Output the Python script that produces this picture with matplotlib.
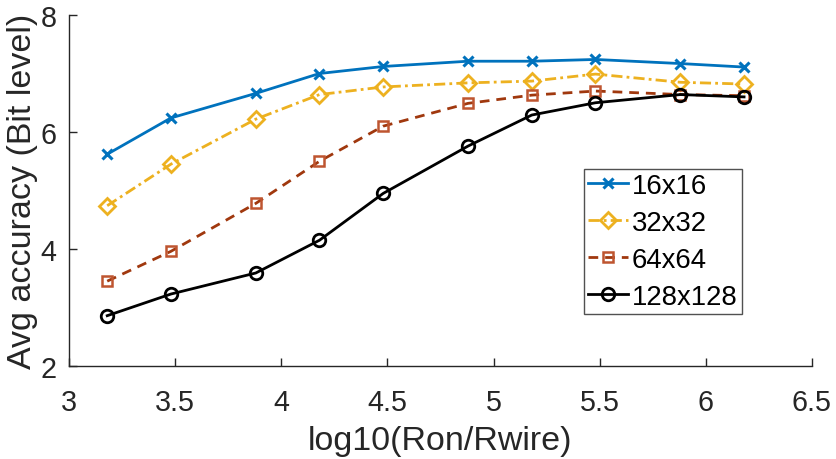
import matplotlib
matplotlib.use("Agg")
import matplotlib.pyplot as plt

# x positions: log10(Ron/Rwire)
ratio = [3.18, 3.48, 3.88, 4.18, 4.48, 4.88, 5.18, 5.48, 5.88, 6.18]

acc_16 = [5.62, 6.24, 6.66, 7.00, 7.12, 7.21, 7.21, 7.24, 7.17, 7.11]
acc_32 = [4.74, 5.45, 6.22, 6.64, 6.77, 6.84, 6.87, 6.99, 6.85, 6.82]
acc_64 = [3.45, 3.96, 4.78, 5.50, 6.10, 6.49, 6.63, 6.70, 6.64, 6.62]
acc_128 = [2.86, 3.23, 3.59, 4.15, 4.95, 5.76, 6.29, 6.50, 6.64, 6.60]

labels = ["16x16", "32x32", "64x64", "128x128"]

plt.rcParams['font.family'] = ['Liberation Sans', 'DejaVu Sans']
txt = '#262626'

fig = plt.figure(figsize=(8.37, 4.6), dpi=100)
ax = fig.add_axes([69/837, 1 - 367/460, (812 - 69)/837, (367 - 16)/460])

ax.plot(ratio, acc_16, color='#0072BD', lw=2, marker='x', ms=7, mew=2.2,
        label=labels[0])
ax.plot(ratio, acc_32, color='#EDB120', lw=2, ls=(0, (4, 1.5, 1, 1.5)),
        marker='D', ms=8, mfc='none', mew=2, label=labels[1])
ax.plot(ratio, acc_64, color='#A0380E', lw=2, ls=(0, (3.5, 2.5)),
        marker='s', ms=7, mfc='none', mec='#BE5530', mew=1.8, label=labels[2])
ax.plot(ratio, acc_128, color='black', lw=2, marker='o', ms=9, mfc='none',
        mew=2, label=labels[3])

ax.set_xlim(3, 6.5)
ax.set_ylim(2, 8)
ax.set_xticks([3, 3.5, 4, 4.5, 5, 5.5, 6, 6.5])
ax.set_xticklabels(['3', '3.5', '4', '4.5', '5', '5.5', '6', '6.5'])
ax.set_yticks([2, 4, 6, 8])
for s in ['top', 'right']:
    ax.spines[s].set_visible(False)
for s in ['left', 'bottom']:
    ax.spines[s].set_color(txt)
    ax.spines[s].set_linewidth(1)
ax.tick_params(direction='in', length=6, width=1, colors=txt,
               labelsize=20.7, labelcolor=txt, pad=9)
ax.tick_params(axis='x', pad=16)

ax.set_xlabel('log10(Ron/Rwire)', fontsize=24.5, color=txt, labelpad=6)
ax.set_ylabel('Avg accuracy (Bit level)', fontsize=24.5, color=txt,
              labelpad=2)

leg = ax.legend(loc='upper left', bbox_to_anchor=((584 - 69)/743, (367 - 170)/351),
                fontsize=19.8, frameon=True, fancybox=False, edgecolor=txt,
                handlelength=1.45, handletextpad=0.15, borderpad=0.15,
                labelspacing=0.4, borderaxespad=0)
leg.get_frame().set_linewidth(1)

fig.savefig('out.png', dpi=100)
